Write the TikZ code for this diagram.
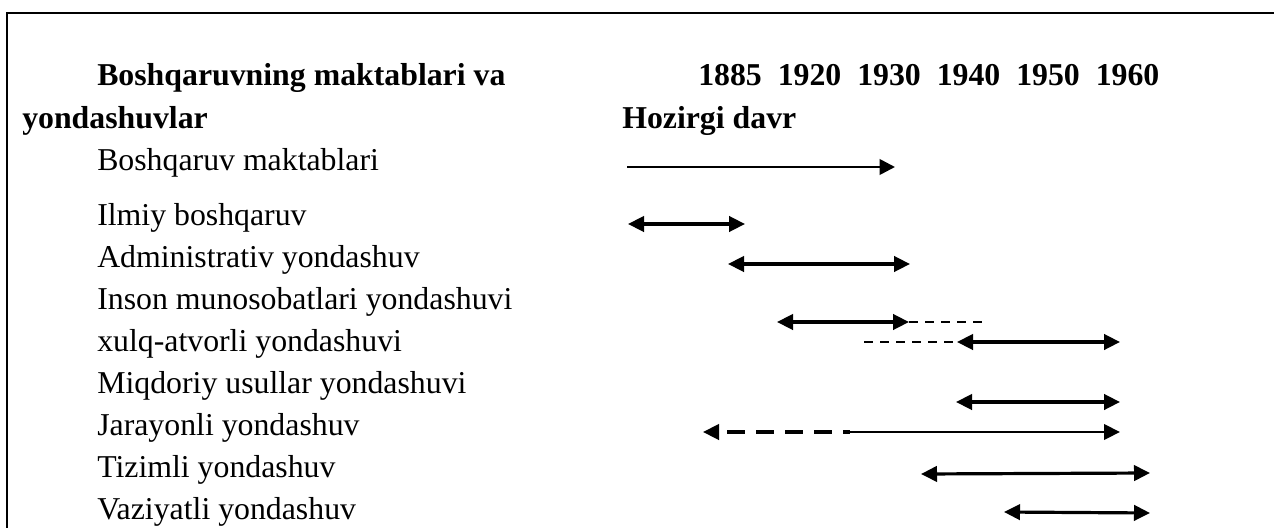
\documentclass[tikz,border=0pt]{standalone}
\usepackage{fontspec}
\setmainfont{Liberation Serif}
\usetikzlibrary{arrows.meta}

\tikzset{
  lbl/.style={anchor=base west, inner sep=0pt, font=\fontsize{23.85}{28}\selectfont},
  hdr/.style={lbl, font=\fontsize{23.85}{28}\selectfont\bfseries},
  frameline/.style={line width=1.9pt, line join=miter},
  oneway/.style={line width=2pt, -{Triangle[length=11.5pt, width=11.5pt]}},
  span/.style={line width=2.4pt, {Triangle[length=12pt, width=11.5pt]}-{Triangle[length=12pt, width=11.5pt]}},
  faint/.style={line width=1.5pt, dash pattern=on 6.75pt off 5.25pt},
  longdash/.style={line width=2.4pt, dash pattern=on 13.5pt off 8.25pt, dash phase=15pt,
                   {Triangle[length=12pt, width=11.5pt]}-},
  plainline/.style={line width=2.2pt, -{Triangle[length=12pt, width=11.5pt]}}
}

\begin{document}
\begin{tikzpicture}[x=0.75pt, y=-0.75pt]
  \useasboundingbox (0,0) rectangle (1274,528);

  % open frame: top and left rules
  \coordinate (fb) at (7,528);
  \coordinate (fc) at (7,13);
  \coordinate (fr) at (1274,13);
  \draw[frameline] (fb) -- (fc) -- (fr);

  % headings
  \node[hdr] (title1) at (97,86) {Boshqaruvning maktablari va};
  \node[hdr] (title2) at (22,128) {yondashuvlar};
  \node[hdr] (years)  at (698,86) {1885~~1920~~1930~~1940~~1950~~1960};
  \node[hdr] (now)    at (622,128) {Hozirgi davr};

  % schools and approaches
  \node[lbl] (r0) at (97,170) {Boshqaruv maktablari};
  \node[lbl] (r1) at (97,225) {Ilmiy boshqaruv};
  \node[lbl] (r2) at (97,267) {Administrativ yondashuv};
  \node[lbl] (r3) at (97,309) {Inson munosobatlari yondashuvi};
  \node[lbl] (r4) at (97,351) {xulq-atvorli yondashuvi};
  \node[lbl] (r5) at (97,393) {Miqdoriy usullar yondashuvi};
  \node[lbl] (r6) at (97,435) {Jarayonli yondashuv};
  \node[lbl] (r7) at (97,477) {Tizimli yondashuv};
  \node[lbl] (r8) at (97,519) {Vaziyatli yondashuv};

  % time spans
  \coordinate (a0s) at (627,167);  \coordinate (a0e) at (895,167);
  \coordinate (a1s) at (628,224);  \coordinate (a1e) at (745,224);
  \coordinate (a2s) at (728,264);  \coordinate (a2e) at (910,264);
  \coordinate (a3s) at (777,322);  \coordinate (a3e) at (909,322);
  \coordinate (a3d) at (987,322);
  \coordinate (a4d) at (864,342);
  \coordinate (a4s) at (957,342);  \coordinate (a4e) at (1120,342);
  \coordinate (a5s) at (956,402);  \coordinate (a5e) at (1120,402);
  \coordinate (a6s) at (703,432);  \coordinate (a6m) at (850,432);
  \coordinate (a6e) at (1120,432);
  \coordinate (a7s) at (921,474);  \coordinate (a7e) at (1150,473);
  \coordinate (a8s) at (1004,512); \coordinate (a8e) at (1150,513);

  \draw[oneway] (a0s) -- (a0e);
  \draw[span] (a1s) -- (a1e);
  \draw[span] (a2s) -- (a2e);
  \draw[span] (a3s) -- (a3e);
  \draw[faint] (a3e) -- (a3d);
  \draw[faint] (a4d) -- (a4s);
  \draw[span] (a4s) -- (a4e);
  \draw[span] (a5s) -- (a5e);
  \draw[longdash] (a6s) -- (a6m);
  \draw[plainline] (a6m) -- (a6e);
  \draw[span] (a7s) -- (a7e);
  \draw[span] (a8s) -- (a8e);
\end{tikzpicture}
\end{document}
